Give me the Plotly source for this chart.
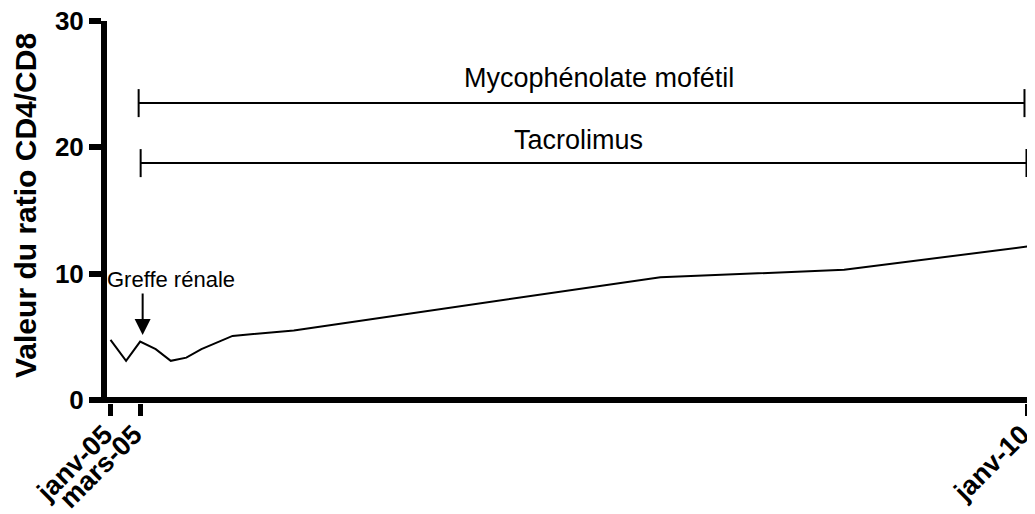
import plotly.graph_objects as go

# ---- data ----
dates = ["2005-01-01", "2005-02-01", "2005-03-01", "2005-04-01", "2005-05-01",
         "2005-06-01", "2005-07-01", "2005-09-01", "2006-01-01", "2008-01-01",
         "2009-01-01", "2010-01-01"]
ratio = [4.75, 3.1, 4.62, 4.02, 3.1, 3.35, 4.02, 5.07, 5.5, 9.72, 10.3, 12.15]

tick_dates = ["2005-01-01", "2005-03-01", "2010-01-01"]
tick_labels = ["janv-05", "mars-05", "janv-10"]

myco_dates = ["2005-02-26", "2009-12-26"]
myco_level = [23.5, 23.5]
tacro_dates = ["2005-03-02", "2009-12-30"]
tacro_level = [18.75, 18.75]

FONT = "Liberation Sans, Arial, Helvetica, sans-serif"

fig = go.Figure()

fig.add_trace(go.Scatter(x=dates, y=ratio, mode="lines",
                         line=dict(color="black", width=2), showlegend=False))

for xs, ys in [(myco_dates, myco_level), (tacro_dates, tacro_level)]:
    fig.add_trace(go.Scatter(x=xs, y=ys, mode="lines+markers",
                             line=dict(color="black", width=2),
                             marker=dict(symbol="line-ns-open", size=20,
                                         line=dict(color="black", width=2)),
                             cliponaxis=False, showlegend=False))

# x axis baseline at y = 0
fig.add_shape(type="line", xref="paper", yref="y", x0=0, x1=1, y0=0, y1=0,
              line=dict(color="black", width=6))

fig.add_annotation(x="2007-08-31", y=25.5, text="Mycophénolate mofétil",
                   showarrow=False, font=dict(family=FONT, size=27, color="black"))
fig.add_annotation(x="2007-07-22", y=20.6, text="Tacrolimus",
                   showarrow=False, font=dict(family=FONT, size=27, color="black"))
fig.add_annotation(x="2005-05-02", y=9.5, text="Greffe rénale",
                   showarrow=False, font=dict(family=FONT, size=22, color="black"))
fig.add_annotation(x="2005-03-06", y=5.15, ax="2005-03-06", ay=8.55,
                   axref="x", ayref="y", text="", showarrow=True,
                   arrowhead=2, arrowsize=1.6, arrowwidth=2, arrowcolor="black",
                   standoff=0, startstandoff=0)

fig.add_annotation(x=0, xref="paper", xshift=-82, y=0.5, yref="paper", yshift=6,
                   text="<b>Valeur du ratio CD4/CD8</b>", textangle=-90,
                   showarrow=False, xanchor="center", yanchor="middle",
                   font=dict(family=FONT, size=30, color="black"))

fig.update_layout(
    width=1027, height=506,
    margin=dict(l=99, r=5, t=13, b=111),
    plot_bgcolor="white", paper_bgcolor="white",
    xaxis=dict(type="date", range=["2004-12-25", "2010-01-06"],
               tickmode="array", tickvals=tick_dates, ticktext=tick_labels,
               tickangle=-45, ticks="outside", ticklen=12, tickwidth=5,
               tickcolor="black", showgrid=False, zeroline=False, showline=False,
               automargin=False, ticklabeloverflow="allow",
               ticklabelstandoff=-8, ticklabelshift=-6,
               tickfont=dict(family=FONT, size=27, color="black", weight="bold")),
    yaxis=dict(range=[-0.24, 30], tickvals=[0, 10, 20, 30],
               ticks="outside", ticklen=12, tickwidth=6, tickcolor="black",
               showline=True, linewidth=6, linecolor="black",
               showgrid=False, zeroline=False, automargin=False,
               ticklabeloverflow="allow",
               tickfont=dict(family=FONT, size=26, color="black", weight="bold")),
)

fig.write_html("out.html")
